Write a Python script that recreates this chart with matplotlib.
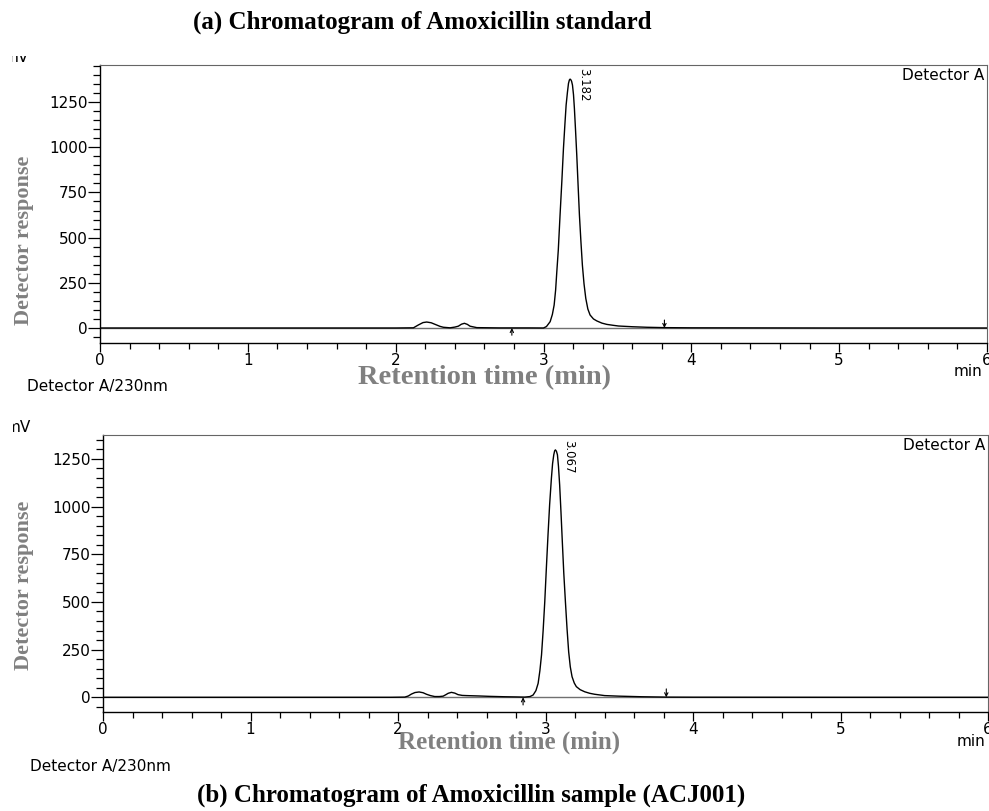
import numpy as np
import matplotlib.pyplot as plt
from matplotlib.ticker import MultipleLocator
from matplotlib.transforms import Bbox, TransformedBbox

# (a) standard - retention time (min) and detector response (mV)
std_t = [0.0, 1.0, 2.0, 2.12, 2.154, 2.185, 2.21, 2.24, 2.267, 2.30, 2.323, 2.368, 2.40,
         2.424, 2.445, 2.465, 2.485, 2.503, 2.549, 2.7, 2.9, 3.0, 3.02, 3.045, 3.06,
         3.072, 3.082, 3.090, 3.100, 3.112, 3.124, 3.135, 3.145, 3.153, 3.162, 3.169,
         3.175, 3.180, 3.186, 3.190, 3.196, 3.203, 3.209, 3.217, 3.225, 3.234, 3.243,
         3.253, 3.263, 3.274, 3.286, 3.30, 3.315, 3.338, 3.361, 3.395, 3.428, 3.47,
         3.507, 3.6, 3.7, 3.82, 4.0, 5.0, 6.0]
std_y = [0, 0, 0, 1, 17, 30, 33, 29, 20, 9, 4, 1, 5,
         10, 21, 26, 20, 10, 2, 0.5, 0.5, 0, 8, 35, 75,
         127, 210, 311, 430, 625, 810, 994, 1130, 1233, 1305, 1353,
         1372, 1377, 1372, 1365, 1344, 1290, 1215, 1090, 957, 790, 625,
         480, 348, 245, 164, 105, 72, 50, 39, 27, 20, 15,
         11, 7, 4, 2, 1, 0, 0]

# (b) sample ACJ001
smp_t = [0.0, 1.0, 1.95, 2.046, 2.07, 2.091, 2.115, 2.143, 2.17, 2.193, 2.22, 2.249,
         2.28, 2.306, 2.325, 2.340, 2.362, 2.385, 2.407, 2.435, 2.464, 2.55, 2.62,
         2.72, 2.80, 2.859, 2.895, 2.916, 2.935, 2.950, 2.962, 2.973, 2.984, 2.995,
         3.006, 3.017, 3.028, 3.040, 3.048, 3.056, 3.062, 3.067, 3.074, 3.081, 3.088,
         3.096, 3.105, 3.114, 3.124, 3.135, 3.146, 3.157, 3.168, 3.180, 3.195, 3.209,
         3.235, 3.266, 3.30, 3.333, 3.401, 3.5, 3.65, 3.82, 4.0, 5.0, 6.0]
smp_y = [0, 0, 0, 1, 7, 17, 25, 28, 24, 16, 9, 4,
         4, 6, 14, 21, 26, 22, 14, 10, 9, 7, 5,
         3, 2, 1, 4, 12, 35, 73, 140, 222, 350, 501,
         680, 851, 1010, 1148, 1225, 1271, 1292, 1297, 1290, 1271, 1210,
         1113, 970, 816, 650, 501, 360, 239, 160, 108, 75, 56,
         40, 29, 21, 16, 9, 6, 3, 1, 0.5, 0, 0]

std_rt = 3.182
smp_rt = 3.067
std_marks = [2.786, 3.818]   # integration start / end
smp_marks = [2.848, 3.819]

titles = ['(a) Chromatogram of Amoxicillin standard',
          '(b) Chromatogram of Amoxicillin sample (ACJ001)']

W, H = 989, 811
fx = lambda x: x / W
fy = lambda y: 1 - y / H

serif = 'Liberation Serif'
grey = '#808080'

fig = plt.figure(figsize=(9.89, 8.11), dpi=100)
ax1 = fig.add_axes([fx(100), fy(343), 887 / W, 278 / H])
ax2 = fig.add_axes([fx(103), fy(712), 885 / W, 277 / H])

panels = [(ax1, std_t, std_y, std_rt, std_marks, (-83, 1455), 1438),
          (ax2, smp_t, smp_y, smp_rt, smp_marks, (-77, 1375), 1349)]

for ax, t, y, rt, marks, ylim, labtop in panels:
    ax.plot(t, y, color='black', lw=1.0, zorder=3)
    ax.axhline(0, color='#707070', lw=1.0, zorder=2)
    ax.set_xlim(0, 6)
    ax.set_ylim(*ylim)
    ax.set_xticks(range(7))
    ax.xaxis.set_minor_locator(MultipleLocator(0.2))
    ax.set_yticks(range(0, 1251, 250))
    ax.yaxis.set_minor_locator(MultipleLocator(50))
    ax.tick_params(axis='x', which='major', length=6.5, width=0.9, labelsize=11, pad=0.5)
    ax.tick_params(axis='x', which='minor', length=4.3, width=0.9)
    ax.tick_params(axis='y', which='major', length=8.5, width=0.9, labelsize=11, pad=0.5)
    ax.tick_params(axis='y', which='minor', length=5, width=0.9)
    for s in ['top', 'right']:
        ax.spines[s].set_color('#666666')
    for s in ['left', 'bottom']:
        ax.spines[s].set_linewidth(1.0)
    ax.text(rt + 0.087, labtop, f'{rt:.3f}', rotation=-90, ha='center', va='top', fontsize=8.5)
    ax.text(0.997, 0.99, 'Detector A', transform=ax.transAxes, ha='right', va='top', fontsize=11)
    ax.annotate('', xy=(marks[0], 0), xytext=(marks[0], -40),
                arrowprops=dict(arrowstyle='->', lw=0.8, color='black',
                                shrinkA=0, shrinkB=0, mutation_scale=6))
    ax.annotate('', xy=(marks[1], 0), xytext=(marks[1], 44),
                arrowprops=dict(arrowstyle='->', lw=0.8, color='black',
                                shrinkA=0, shrinkB=0, mutation_scale=6))

# y labels
fig.text(fx(24), fy(240), 'Detector response', rotation=90, ha='center', va='center',
         family=serif, weight='bold', fontsize=16, color=grey)
fig.text(fx(24), fy(585), 'Detector response', rotation=90, ha='center', va='center',
         family=serif, weight='bold', fontsize=16, color=grey)

# x labels
fig.text(fx(484), fy(378), 'Retention time (min)', ha='center', va='center',
         family=serif, weight='bold', fontsize=20.5, color=grey)
fig.text(fx(509), fy(742), 'Retention time (min)', ha='center', va='center',
         family=serif, weight='bold', fontsize=18, color=grey)

# titles
fig.text(fx(422), fy(22), titles[0], ha='center', va='center',
         family=serif, weight='bold', fontsize=18)
fig.text(fx(471), fy(795), titles[1], ha='center', va='center',
         family=serif, weight='bold', fontsize=18)

# instrument texts
fig.text(fx(27), fy(387), 'Detector A/230nm', ha='left', va='center', fontsize=11)
fig.text(fx(30), fy(767), 'Detector A/230nm', ha='left', va='center', fontsize=11)
fig.text(fx(968), fy(372), 'min', ha='center', va='center', fontsize=11)
fig.text(fx(971), fy(742), 'min', ha='center', va='center', fontsize=11)

# clipped unit labels
for x0, base, cx, cy in [(4, 62, 12, 56), (6, 432, 13, 420)]:
    txt = fig.text(fx(x0), fy(base), 'mV', ha='left', va='baseline', fontsize=11)
    txt.set_clip_on(True)
    txt.set_clip_box(TransformedBbox(Bbox([[fx(cx), fy(base + 5)], [fx(60), fy(cy)]]),
                                     fig.transFigure))

fig.savefig('out.png', dpi=100)
